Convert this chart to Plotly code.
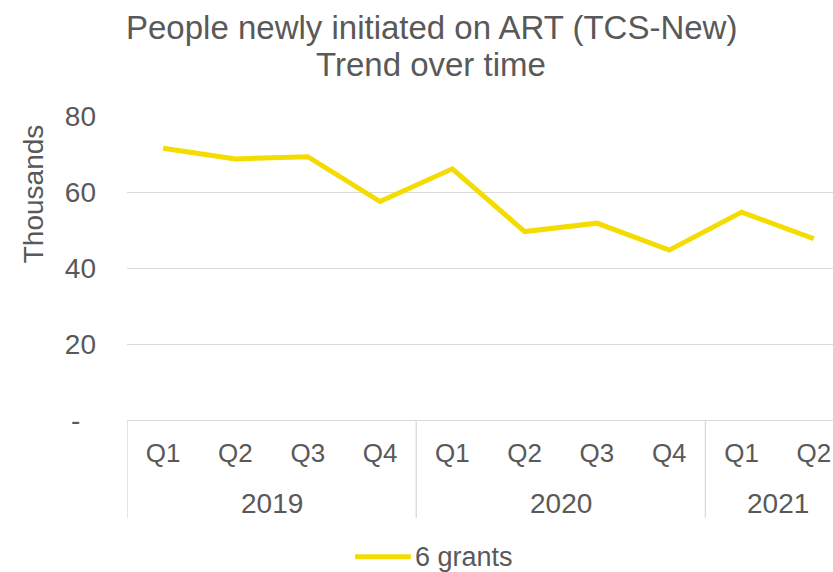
import plotly.graph_objects as go

# Quarterly counts of people newly initiated on ART (thousands)
years = ["2019", "2020", "2021"]
quarters_per_year = [4, 4, 2]
quarter_labels = ["Q1", "Q2", "Q3", "Q4", "Q1", "Q2", "Q3", "Q4", "Q1", "Q2"]
new_on_art = [71.5, 68.7, 69.3, 57.5, 66.1, 49.6, 51.8, 44.7, 54.7, 47.7]
series_name = "6 grants"

title_lines = ["People newly initiated on ART (TCS-New)", "Trend over time"]
y_title = "Thousands"
y_tickvals = [0, 20, 40, 60, 80]
y_ticktext = ["-\u00a0\u00a0", "20", "40", "60", "80"]

FONT = "Liberation Sans, Arial, sans-serif"
TEXT = "#595959"
GRID = "#d9d9d9"
YELLOW = "#F5DC00"

idx = list(range(len(new_on_art)))

fig = go.Figure()
fig.add_trace(go.Scatter(
    x=idx, y=new_on_art, mode="lines", name=series_name,
    line=dict(color=YELLOW, width=5),
    showlegend=False,
))

# group boundaries and year labels for the two-level category axis
bounds = [-0.5]
for n in quarters_per_year:
    bounds.append(bounds[-1] + n)

shapes = []
for b in bounds:
    shapes.append(dict(type="line", xref="x", yref="paper", x0=b, x1=b,
                       y0=0, y1=-0.322, line=dict(color=GRID, width=1.3)))

annotations = []
for i, yr in enumerate(years):
    center = (bounds[i] + bounds[i + 1]) / 2
    annotations.append(dict(text=yr, xref="x", yref="paper", x=center, y=-0.275,
                            xanchor="center", yanchor="middle", showarrow=False,
                            font=dict(family=FONT, size=28, color=TEXT)))

# axis title
annotations.append(dict(text=y_title, xref="paper", yref="paper",
                        x=-0.133, y=0.743, textangle=-90,
                        xanchor="center", yanchor="middle", showarrow=False,
                        font=dict(family=FONT, size=28, color=TEXT)))

# two-line chart title
for line_text, ypos in zip(title_lines, [1.291, 1.168]):
    annotations.append(dict(text=line_text, xref="paper", yref="paper",
                            x=0.431, y=ypos, xanchor="center", yanchor="middle",
                            showarrow=False,
                            font=dict(family=FONT, size=33, color=TEXT)))

# legend entry: line sample followed by the series name
shapes.append(dict(type="line", xref="paper", yref="paper",
                   x0=0.323, x1=0.402, y0=-0.45, y1=-0.45,
                   line=dict(color=YELLOW, width=5)))
annotations.append(dict(text=series_name, xref="paper", yref="paper",
                        x=0.405, y=-0.45, xanchor="left", yanchor="middle",
                        showarrow=False,
                        font=dict(family=FONT, size=27, color=TEXT)))

fig.update_layout(
    width=833, height=572,
    margin=dict(l=127, r=0, t=116, b=152, autoexpand=False),
    paper_bgcolor="white", plot_bgcolor="white",
    showlegend=False,
    xaxis=dict(range=[-0.5, 9.265], tickvals=idx, ticktext=quarter_labels,
               showgrid=False, zeroline=False, showline=True,
               linecolor=GRID, linewidth=1.3, ticks="",
               ticklabelstandoff=10,
               tickfont=dict(family=FONT, size=26, color=TEXT)),
    yaxis=dict(range=[0, 80], tickvals=y_tickvals, ticktext=y_ticktext,
               showgrid=True, gridcolor=GRID, gridwidth=1.3,
               zeroline=False, showline=False, ticks="",
               ticklabelstandoff=30,
               tickfont=dict(family=FONT, size=28, color=TEXT)),
    shapes=shapes,
    annotations=annotations,
)

fig.write_html("out.html")
